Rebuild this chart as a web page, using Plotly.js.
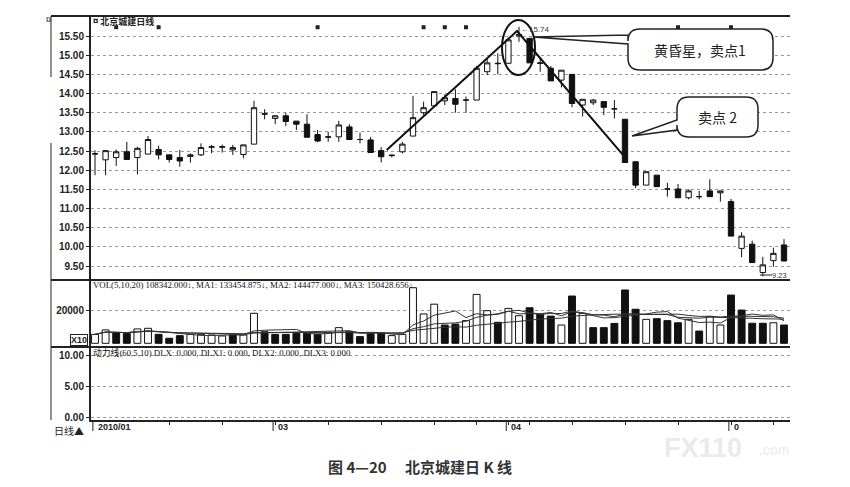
<!DOCTYPE html>
<html><head><meta charset="utf-8">
<script src="https://cdn.plot.ly/plotly-3.0.1.min.js"></script>
<style>html,body{margin:0;padding:0;background:#fff}#chart{width:850px;height:487px}</style>
</head><body><div id="chart"></div>
<script>
// ---- data ----
const open  = [12.42,12.27,12.33,12.48,12.33,12.42,12.54,12.40,12.33,12.36,12.40,12.60,12.60,12.53,12.41,12.68,13.46,13.35,13.42,13.28,13.20,12.93,12.86,12.87,13.13,12.80,12.79,12.51,12.38,12.48,12.89,13.50,13.68,13.81,13.87,13.83,13.83,14.57,14.79,14.79,15.50,15.44,14.80,14.66,14.35,14.50,13.70,13.76,13.79,13.60,13.33,12.22,11.61,11.87,11.51,11.51,11.28,11.31,11.46,11.41,11.18,9.96,10.07,9.33,9.64,10.05];
const high  = [12.52,12.52,12.54,12.74,12.61,12.89,12.64,12.40,12.53,12.44,12.70,12.66,12.67,12.66,12.66,13.81,13.59,13.42,13.50,13.28,13.46,13.05,13.00,13.29,13.20,12.98,12.87,12.60,12.42,12.74,13.94,13.79,14.05,13.98,14.11,13.92,14.72,14.92,15.05,15.45,15.74,15.44,14.94,14.72,14.61,14.50,13.85,13.86,13.79,13.83,13.33,12.22,11.96,11.87,11.67,11.64,11.50,11.46,11.76,11.46,11.25,10.38,10.16,9.74,9.98,10.20];
const low   = [11.87,11.87,12.11,12.27,11.89,12.42,12.28,12.20,12.09,12.20,12.37,12.44,12.46,12.40,12.31,12.68,13.33,13.20,13.15,13.05,12.86,12.73,12.74,12.74,12.80,12.70,12.46,12.20,12.33,12.44,12.89,13.44,13.68,13.70,13.50,13.50,13.83,14.48,14.50,14.79,15.35,14.80,14.57,14.33,14.16,13.64,13.40,13.70,13.44,13.35,12.20,11.53,11.61,11.57,11.31,11.28,11.24,11.24,11.31,11.18,10.28,9.73,9.59,9.23,9.48,9.63];
const close = [12.43,12.51,12.48,12.28,12.57,12.80,12.40,12.28,12.24,12.40,12.59,12.61,12.61,12.59,12.66,13.63,13.47,13.42,13.27,13.20,12.86,12.76,12.87,13.18,12.80,12.80,12.46,12.35,12.39,12.68,13.37,13.63,14.05,13.89,13.72,13.83,14.66,14.80,14.78,15.40,15.54,14.80,14.79,14.33,14.61,13.74,13.85,13.83,13.64,13.60,12.20,11.61,11.96,11.57,11.51,11.28,11.46,11.31,11.31,11.46,10.28,10.28,9.59,9.53,9.83,9.63];
const volume = [5500,8200,6500,6100,8800,9200,5500,3100,4700,5500,5500,5100,4500,5100,5100,18400,7100,5500,5500,6100,6100,5500,6700,9600,7100,4100,6100,6100,4700,5500,34100,18000,24000,11200,11800,13900,30000,20000,12900,21400,16900,21800,17800,16700,11200,29000,18400,9600,9600,12200,32700,20900,14700,15100,13900,12600,14700,7500,16300,11200,29600,20400,12300,12300,12600,11200];
const volUp  = [1,1,0,0,1,1,0,0,0,1,1,1,1,0,1,1,0,0,0,0,0,0,1,1,0,0,0,0,1,1,1,1,1,0,0,1,1,1,0,1,1,0,0,0,1,0,1,0,0,0,0,0,1,0,0,0,1,0,1,1,0,0,0,0,1,0];
const infoDays = [2,6,21,31,33,35,55,60];
const maPeriods = [5,10,20];
const priceTicks = [9.5,10,10.5,11,11.5,12,12.5,13,13.5,14,14.5,15,15.5];
const xLabelPos = [0,17,39,60];
const xLabelText = ["2010/01","03","04","0"];
const xMinorTicks = [7,12,17,22,27,32,36,39,41,45,50,55,60,64];

const days = open.map((_, i) => i);
function sma(arr, n){ return arr.map((_, i) => { const s = arr.slice(Math.max(0, i-n+1), i+1); return s.reduce((a,b)=>a+b,0)/s.length; }); }

// ---- pixel helpers for decorations ----
const L = 91, R = 790, T = 16, B = 420;
const PX = x => (x - L) / (R - L);
const PY = y => (B - y) / (B - T);
const IX = x => (x - 95) / 10.6;            // pixel -> candle index
const IP = y => 15.5 - (y - 36) / 38.33;    // pixel -> price

const traces = [];
traces.push({type:'candlestick', x: days, open, high, low, close, xaxis:'x', yaxis:'y',
  increasing:{line:{color:'#111', width:1}, fillcolor:'#ffffff'},
  decreasing:{line:{color:'#111', width:1}, fillcolor:'#111'},
  whiskerwidth:0, showlegend:false, hoverinfo:'skip'});
traces.push({type:'scatter', mode:'markers', x: infoDays, y: infoDays.map(()=>15.73), xaxis:'x', yaxis:'y',
  marker:{symbol:'square', size:4, color:'#222'}, showlegend:false, hoverinfo:'skip'});
traces.push({type:'bar', x: days, y: volume, xaxis:'x', yaxis:'y2',
  marker:{color: volUp.map(u => u ? '#ffffff' : '#111'), line:{color:'#111', width:1}},
  showlegend:false, hoverinfo:'skip'});
maPeriods.forEach(n => traces.push({type:'scatter', mode:'lines', x: days, y: sma(volume, n), xaxis:'x', yaxis:'y2',
  line:{color:'#333', width:1}, showlegend:false, hoverinfo:'skip'}));
traces.push({type:'scatter', mode:'lines', x: [days[0], days[days.length-1]], y:[0,0], xaxis:'x', yaxis:'y3',
  line:{color:'rgba(0,0,0,0)', width:0}, showlegend:false, hoverinfo:'skip'});

const tickFont = {family:'Liberation Sans, Arial', size:10, color:'#222', weight:'bold'};
const gridStyle = {showgrid:true, gridcolor:'#999', griddash:'dot', gridwidth:1};

function rbubble(x0,y0,x1,y1,r,ty1,ty2,tipx,tipy){
  return `M${PX(x0)},${PY(ty2)} L${PX(x0)},${PY(y1-r)} Q${PX(x0)},${PY(y1)} ${PX(x0+r)},${PY(y1)} L${PX(x1-r)},${PY(y1)} Q${PX(x1)},${PY(y1)} ${PX(x1)},${PY(y1-r)} L${PX(x1)},${PY(y0+r)} Q${PX(x1)},${PY(y0)} ${PX(x1-r)},${PY(y0)} L${PX(x0+r)},${PY(y0)} Q${PX(x0)},${PY(y0)} ${PX(x0)},${PY(y0+r)} L${PX(x0)},${PY(ty1)} L${PX(tipx)},${PY(tipy)} Z`;
}
const pline = (x0,y0,x1,y1,w) => ({type:'line', xref:'paper', yref:'paper', x0:PX(x0), y0:PY(y0), x1:PX(x1), y1:PY(y1), line:{color:'#222', width:w||1}});

const shapes = [
  pline(51,16,790,16,2),
  pline(51,280,790,280,2),
  pline(51,347,790,347,2),
  pline(51,16,51,77,1),
  pline(51,143,51,420,1),
  // trend lines
  {type:'path', xref:'x', yref:'y', path:`M${IX(386.7)},${IP(150)} L${IX(517)},${IP(31)} L${IX(624)},${IP(156)}`, line:{color:'#111', width:2}},
  // ellipse
  {type:'circle', xref:'paper', yref:'paper', x0:PX(502), x1:PX(535), y0:PY(75), y1:PY(20), line:{color:'#111', width:2}},
  // callouts
  {type:'path', xref:'paper', yref:'paper', path: rbubble(628,29,773,70,12,35,44,533,37), fillcolor:'#fff', line:{color:'#222', width:1.5}},
  {type:'path', xref:'paper', yref:'paper', path: rbubble(677,97,758,137,12,120,130,632,136), fillcolor:'#fff', line:{color:'#222', width:1.5}},
  // 9.23 pointer
  pline(760,275,772,275,1),
];
xLabelPos.forEach(p => shapes.push({type:'line', xref:'x', yref:'paper', x0:p-0.2, x1:p-0.2, y0:PY(420), y1:PY(431), line:{color:'#222', width:1}}));

const ann = (x,y,text,size,opts) => Object.assign({xref:'paper', yref:'paper', x:PX(x), y:PY(y), text, showarrow:false, xanchor:'left', yanchor:'middle',
  font:{family:'Noto Sans CJK SC, Liberation Sans', size:size, color:'#222'}}, opts||{});

const annotations = [
  ann(662,448,'FX110',27,{font:{family:'Liberation Sans', size:27, color:'rgba(200,200,200,0.4)', weight:'bold'}}),
  ann(757,450,'.com',14,{font:{family:'Liberation Sans', size:14, color:'rgba(200,200,200,0.4)'}}),
  ann(44,19,'¤',9),
  ann(91,21,'¤ 北京城建日线',9,{font:{family:'Noto Sans CJK SC', size:9, color:'#222', weight:'bold'}}),
  ann(519,29,'←15.74',8,{font:{family:'Liberation Sans', size:8, color:'#333'}}),
  ann(770,275,'9.23',7,{font:{family:'Liberation Sans', size:7.5, color:'#333'}}),
  ann(91,285,'VOL(5,10,20) 108342.000↓, MA1: 133454.875↓, MA2: 144477.000↓, MA3: 150428.656↓',8.8,{font:{family:'Liberation Serif', size:8.8, color:'#111'}}),
  ann(91,352,'动力线(60,5,10) DLX: 0.000, DLX1: 0.000, DLX2: 0.000, DLX3: 0.000',8.8,{font:{family:'Liberation Serif, Noto Sans CJK SC', size:8.8, color:'#111'}}),
  ann(70,340,'X10',9,{font:{family:'Liberation Sans', size:9, color:'#222', weight:'bold'}, bordercolor:'#222', borderwidth:1, borderpad:0}),
  ann(52,430,'日线▲',10,{font:{family:'Noto Sans CJK SC', size:10, color:'#222'}}),
  ann(700,50,'黄昏星，卖点1',14,{xanchor:'center', font:{family:'Noto Sans CJK SC', size:14, color:'#222'}}),
  ann(717,117,'卖点 2',14,{xanchor:'center', font:{family:'Noto Sans CJK SC', size:14, color:'#222'}}),
  ann(420,466,'图 4—20　 北京城建日 K 线',15,{xanchor:'center', font:{family:'Noto Sans CJK SC', size:15, color:'#333', weight:'bold'}}),
];
xLabelPos.forEach((p,i) => annotations.push({xref:'x', yref:'paper', x:p, y:PY(427), text:xLabelText[i], showarrow:false, xanchor:'left', yanchor:'middle', xshift:1,
  font:{family:'Liberation Sans', size:9, color:'#222', weight:'bold'}}));

const layout = {
  width:850, height:487, margin:{l:L, r:850-R, t:T, b:487-B},
  paper_bgcolor:'#fff', plot_bgcolor:'#fff', showlegend:false,
  bargap:0.35, boxgap:0.28,
  xaxis:{anchor:'y3', range:[-0.377, 65.566], rangeslider:{visible:false}, showgrid:false, zeroline:false,
    showline:true, linecolor:'#222', linewidth:2, ticks:'outside', ticklen:3, tickcolor:'#222', tickvals:xMinorTicks, showticklabels:false, fixedrange:true},
  yaxis:Object.assign({domain:[PY(280),1], range:[9.135,16.023], tickvals:priceTicks, tickformat:'.2f', tickfont:tickFont,
    showline:true, linecolor:'#222', linewidth:2, ticks:'outside', ticklen:3, tickcolor:'#222', zeroline:false}, gridStyle),
  yaxis2:Object.assign({domain:[PY(347),PY(280)], range:[-2270,38830], tickvals:[20000], ticktext:['20000'], tickfont:tickFont,
    showline:true, linecolor:'#222', linewidth:2, ticks:'outside', ticklen:3, tickcolor:'#222', zeroline:false}, gridStyle),
  yaxis3:Object.assign({domain:[0,PY(347)], range:[-0.49,11.47], tickvals:[0,5,10], tickformat:'.2f', tickfont:tickFont,
    showline:true, linecolor:'#222', linewidth:2, ticks:'outside', ticklen:3, tickcolor:'#222', zeroline:false}, gridStyle),
  shapes, annotations
};
Plotly.newPlot('chart', traces, layout, {staticPlot:true, displayModeBar:false});
</script></body></html>
